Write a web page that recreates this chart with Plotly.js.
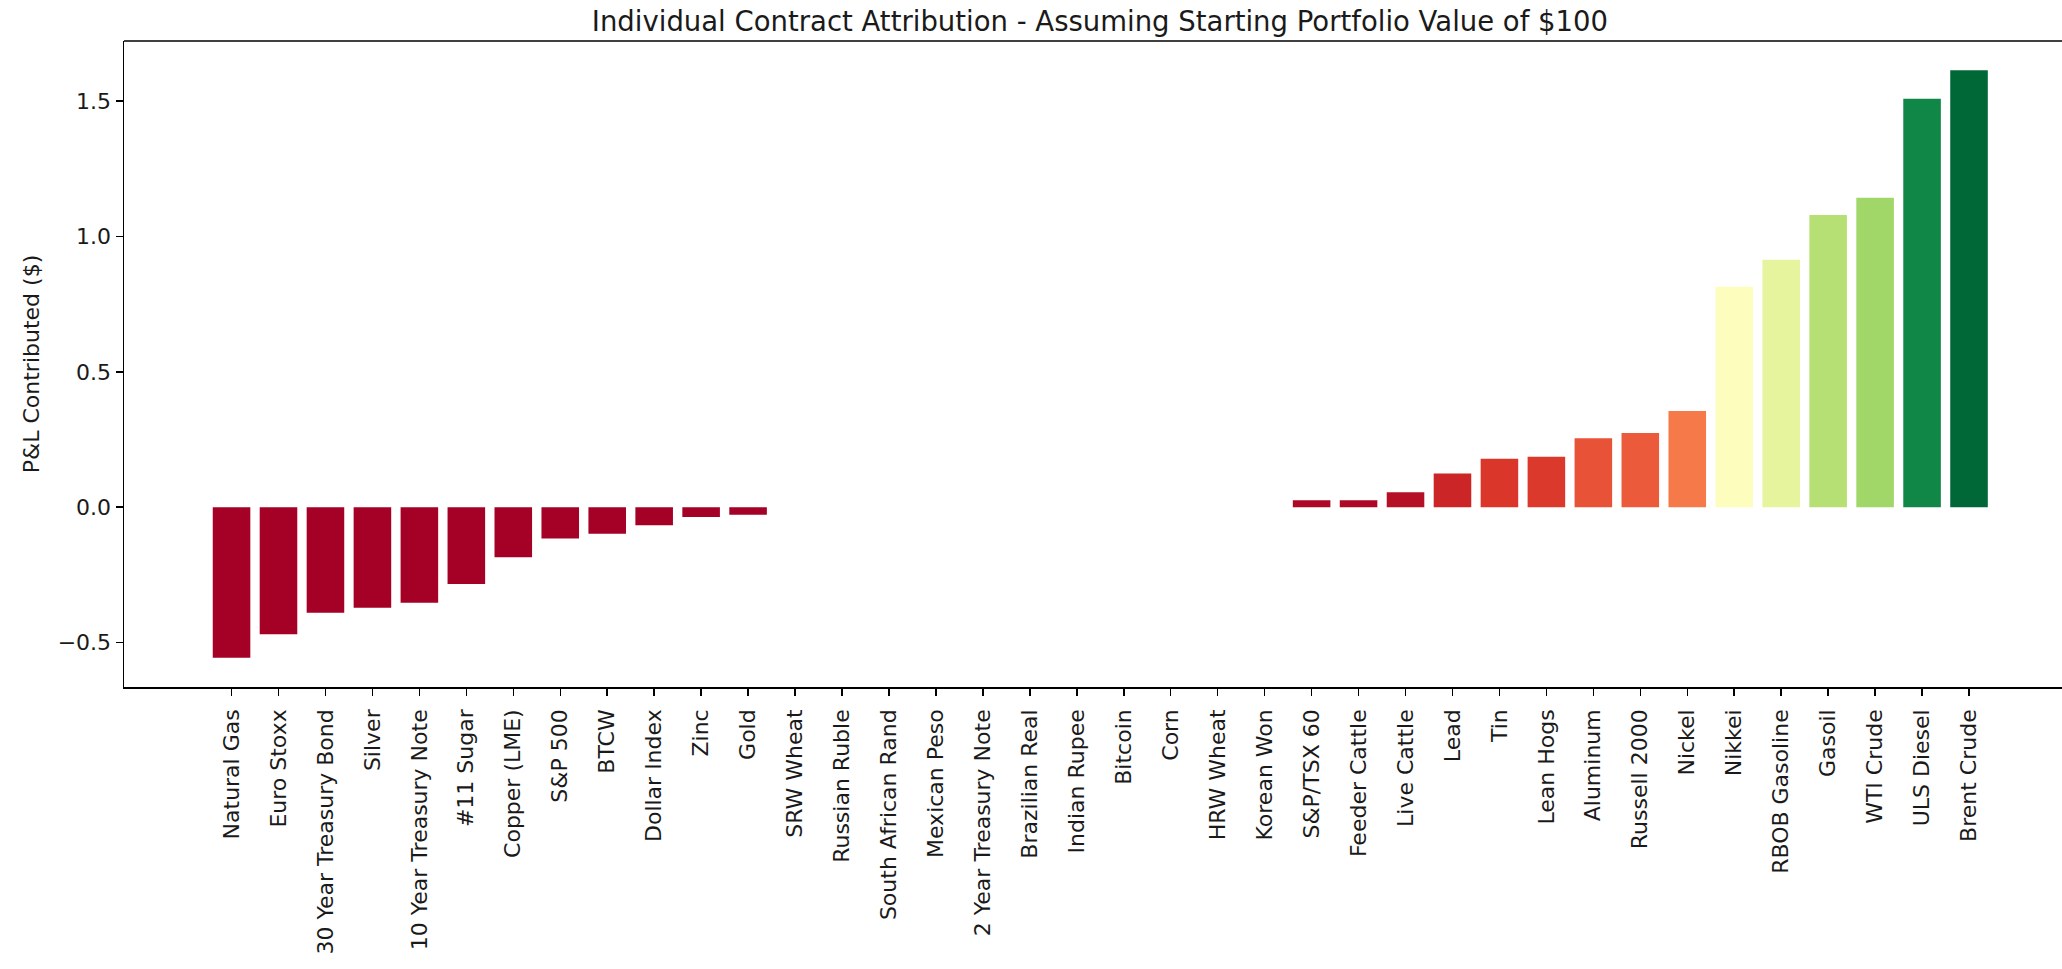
<!DOCTYPE html>
<html>
<head>
<meta charset="utf-8">
<script src="https://cdn.plot.ly/plotly-3.0.1.min.js"></script>
<style>
  html, body { margin: 0; padding: 0; background: #fff; }
  #chart { width: 2062px; height: 969px; }
</style>
</head>
<body>
<div id="chart"></div>
<script>
// contracts, sorted by contribution
var contracts = [
  "Natural Gas", "Euro Stoxx", "30 Year Treasury Bond", "Silver", "10 Year Treasury Note",
  "#11 Sugar", "Copper (LME)", "S&P 500", "BTCW", "Dollar Index", "Zinc", "Gold",
  "SRW Wheat", "Russian Ruble", "South African Rand", "Mexican Peso", "2 Year Treasury Note",
  "Brazilian Real", "Indian Rupee", "Bitcoin", "Corn", "HRW Wheat", "Korean Won",
  "S&P/TSX 60", "Feeder Cattle", "Live Cattle", "Lead", "Tin", "Lean Hogs", "Aluminum",
  "Russell 2000", "Nickel", "Nikkei", "RBOB Gasoline", "Gasoil", "WTI Crude",
  "ULS Diesel", "Brent Crude"
];

// P&L contributed ($) per $100 starting value
var pnl = [
  -0.556, -0.470, -0.390, -0.372, -0.353,
  -0.284, -0.185, -0.116, -0.098, -0.067, -0.036, -0.028,
  0, 0, 0, 0, 0,
  0, 0, 0, 0, 0, 0,
  0.026, 0.026, 0.055, 0.124, 0.179, 0.186, 0.255,
  0.274, 0.355, 0.814, 0.914, 1.080, 1.143,
  1.509, 1.614
];

// matplotlib RdYlGn
var rdylgn = [
  [0.0, "#a50026"], [0.1, "#d73027"], [0.2, "#f46d43"], [0.3, "#fdae61"],
  [0.4, "#fee08b"], [0.5, "#ffffbf"], [0.6, "#d9ef8b"], [0.7, "#a6d96a"],
  [0.8, "#66bd63"], [0.9, "#1a9850"], [1.0, "#006837"]
];

var font = "DejaVu Sans, sans-serif";

var trace = {
  x: contracts,
  y: pnl,
  type: "bar",
  marker: {
    color: pnl,
    colorscale: rdylgn,
    cmin: 0,
    cmax: Math.max.apply(null, pnl),
    line: { width: 0 }
  },
  hoverinfo: "x+y"
};

var layout = {
  width: 2062,
  height: 969,
  margin: { l: 124, r: 0, t: 41, b: 282 },
  paper_bgcolor: "#fff",
  plot_bgcolor: "#fff",
  font: { family: font, size: 22, color: "#1a1a1a" },
  showlegend: false,
  bargap: 0.2,
  title: {
    text: "Individual Contract Attribution - Assuming Starting Portfolio Value of $100",
    font: { family: font, size: 27.5, color: "#1a1a1a" },
    xref: "paper",
    x: 0.5036,
    xanchor: "center",
    yref: "paper",
    y: 1,
    yanchor: "bottom",
    pad: { b: 10 }
  },
  xaxis: {
    type: "category",
    range: [-2.29, 38.98],
    tickangle: -90,
    ticks: "outside",
    ticklen: 7,
    tickwidth: 1.5,
    tickcolor: "#000",
    ticklabelstandoff: 5,
    showline: true,
    linecolor: "#000",
    linewidth: 1.5,
    showgrid: false,
    zeroline: false,
    tickfont: { family: font, size: 22, color: "#1a1a1a" }
  },
  yaxis: {
    range: [-0.6645, 1.7225],
    dtick: 0.5,
    tick0: 0,
    tickformat: ".1f",
    ticks: "outside",
    ticklen: 7,
    tickwidth: 1.5,
    tickcolor: "#000",
    showline: true,
    linecolor: "#000",
    linewidth: 1.5,
    showgrid: false,
    zeroline: false,
    tickfont: { family: font, size: 22, color: "#1a1a1a" },
    title: {
      text: "P&L Contributed ($)",
      font: { family: font, size: 22, color: "#1a1a1a" },
      standoff: 12
    }
  },
  shapes: [{
    type: "line",
    xref: "paper", yref: "paper",
    x0: 0, x1: 1, y0: 1, y1: 1,
    line: { color: "#000", width: 1.5 }
  }]
};

Plotly.newPlot("chart", [trace], layout, { displayModeBar: false, staticPlot: true });
</script>
</body>
</html>
